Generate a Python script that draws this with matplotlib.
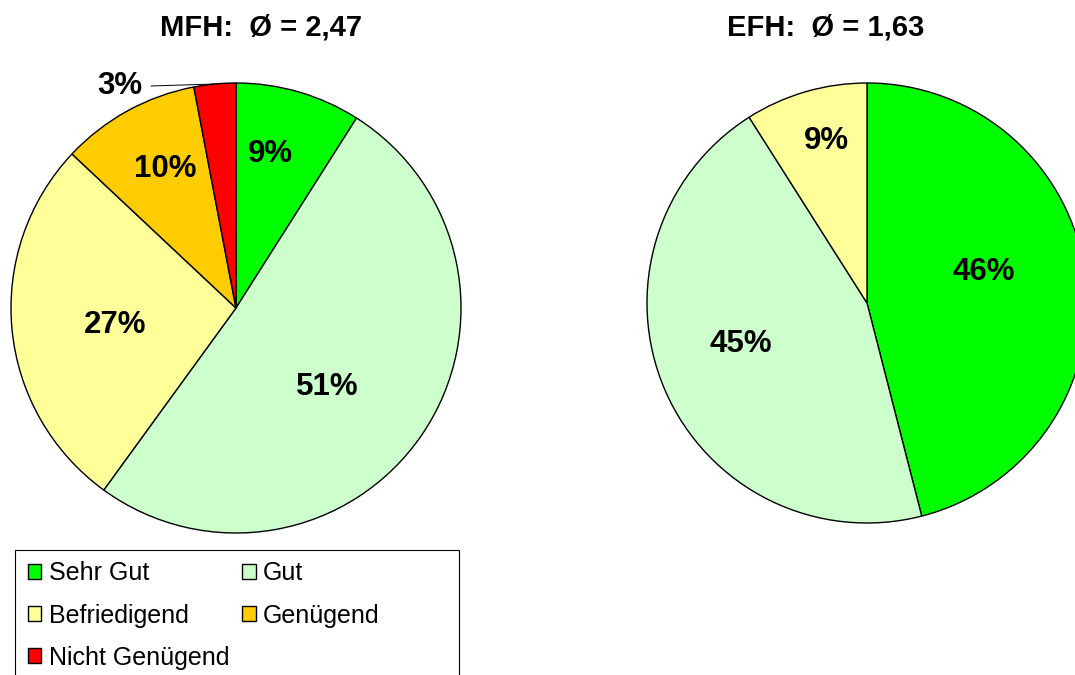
import numpy as np
import matplotlib.pyplot as plt
from matplotlib.patches import Patch, Rectangle

plt.rcParams['font.family'] = ['Liberation Sans', 'DejaVu Sans']

# Daten
kategorien = ["Sehr Gut", "Gut", "Befriedigend", "Genügend", "Nicht Genügend"]
farben = ["#00FF00", "#CCFFCC", "#FFFF99", "#FFCC00", "#FF0000"]

mfh_werte = [9, 51, 27, 10, 3]
efh_werte = [46, 45, 9]
mfh_titel = "MFH:  Ø = 2,47"
efh_titel = "EFH:  Ø = 1,63"

W, H = 1075, 675
fig = plt.figure(figsize=(W / 100, H / 100), dpi=100)
ax = fig.add_axes([0, 0, 1, 1])


def torte(werte, center, radius, label_pos, titel, titel_x):
    cx, cy = center
    wedges, _ = ax.pie(werte, colors=farben[:len(werte)], startangle=90,
                       counterclock=False, center=(cx, cy), radius=radius,
                       wedgeprops=dict(edgecolor='black', linewidth=1.0),
                       frame=True)
    for w, v, (frac, dth) in zip(wedges, werte, label_pos):
        mid = (w.theta1 + w.theta2) / 2
        a = np.deg2rad(mid + dth)
        tx, ty = cx + radius * frac * np.cos(a), cy + radius * frac * np.sin(a) - 2
        if frac > 1:
            am = np.deg2rad(mid)
            ex, ey = cx + radius * np.cos(am), cy + radius * np.sin(am)
            ax.annotate(f"{v}%", xy=(ex, ey), xytext=(tx, ty),
                        ha='center', va='center', fontsize=22.5, fontweight='bold',
                        arrowprops=dict(arrowstyle='-', lw=0.7, color='black',
                                        relpos=(1, 0.5), shrinkA=4, shrinkB=0))
        else:
            ax.text(tx, ty, f"{v}%", ha='center', va='center',
                    fontsize=22.5, fontweight='bold')
    ax.text(titel_x, H - 27, titel, ha='center', va='center',
            fontsize=21, fontweight='bold')


torte(mfh_werte, (236, H - 308), 225,
      [(0.71, 3.6), (0.53, -5.8), (0.54, 1.6), (0.70, -2.1), (1.12, 22)],
      mfh_titel, 261)
torte(efh_werte, (867, H - 303), 220,
      [(0.55, 8.7), (0.60, -6.4), (0.77, -2.2)],
      efh_titel, 826)

ax.set_xlim(0, W)
ax.set_ylim(0, H)
ax.set_aspect('equal')
ax.axis('off')

# Legendenrahmen (unten abgeschnitten wie im Original)
ax.add_patch(Rectangle((15, -20), 444, H - 550 + 20, fill=False,
                       edgecolor='black', linewidth=0.8, clip_on=False))

reihenfolge = [0, 2, 4, 1, 3]
handles = [Patch(facecolor=farben[i], edgecolor='black', linewidth=1.0)
           for i in reihenfolge]
labels = [kategorien[i] for i in reihenfolge]
leg = fig.legend(handles, labels, ncol=2, loc='upper left',
                 bbox_to_anchor=(20 / W, 1 - 554 / H), fontsize=18,
                 frameon=False,
                 handlelength=0.55, handleheight=0.55, handletextpad=0.3,
                 labelspacing=0.72, columnspacing=0.5, borderpad=0.3,
                 borderaxespad=0)

fig.savefig("out.png", dpi=100)
